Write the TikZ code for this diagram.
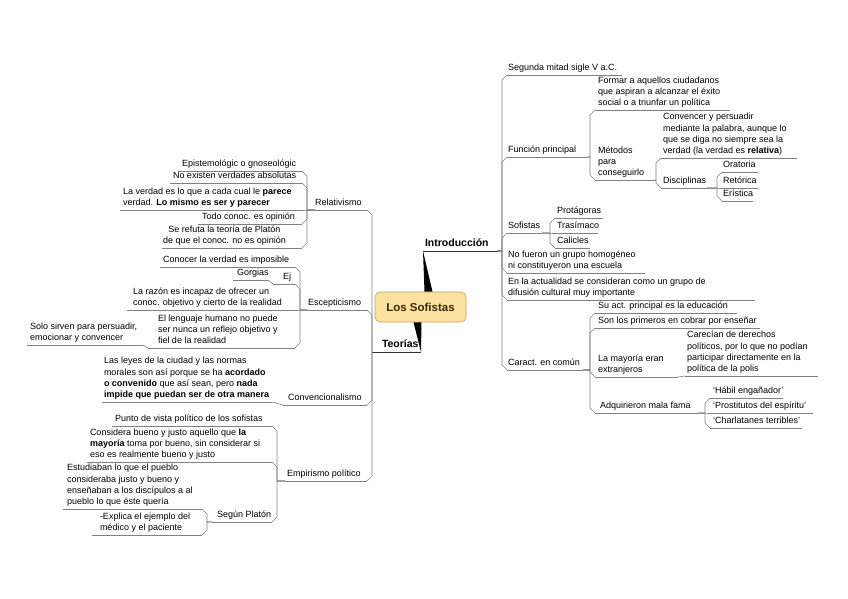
\documentclass[tikz,border=0pt]{standalone}
\usepackage{fontspec}
\setmainfont{Liberation Sans}
\usetikzlibrary{calc}
\definecolor{linec}{RGB}{128,128,128}
\definecolor{rootfill}{RGB}{252,226,160}
\definecolor{rootdraw}{RGB}{190,160,100}
\definecolor{roottext}{RGB}{60,40,10}
\tikzset{
  conn/.style={draw=linec, line width=0.6pt, line join=round},
  mainconn/.style={draw=black!80, line width=0.7pt},
  tp/.style={inner sep=0pt, outer sep=0pt, anchor=south west, align=left, font=\fontsize{9}{11.3}\selectfont},
  tpc/.style={tp, align=center},
  mainb/.style={inner sep=0pt, outer sep=0pt, anchor=south west, font=\bfseries\fontsize{10.5}{12}\selectfont},
  rootbox/.style={draw=rootdraw, fill=rootfill, rounded corners=5pt, minimum width=91pt, minimum height=30pt, inner sep=0pt, text=roottext, font=\bfseries\fontsize{11.5}{13}\selectfont, line width=0.6pt},
}
\newcommand\topic[7][tp]{%
  \coordinate (#2-l) at (#3,#5);
  \coordinate (#2-r) at (#4,#5);
  \node[#1] (#2) at (#6,#5-0.8) {#7\strut};
  \draw[conn] (#2-l) -- (#2-r);
}
\newcommand\linkR[3]{\draw[conn] let \p1=(#1-r), \p2=(#2-l) in (\p1) -- (\x2-5pt,\y1) -- (\x2-5pt,\y2#3) -- (\p2);}
\newcommand\linkL[3]{\draw[conn] let \p1=(#1-l), \p2=(#2-r) in (\p1) -- (\x2+5pt,\y1) -- (\x2+5pt,\y2#3) -- (\p2);}
\begin{document}
\begin{tikzpicture}[x=1pt,y=-1pt]
\useasboundingbox (0,0) rectangle (848,599);
% central node
\node[rootbox] (root) at (420.5,307) {Los Sofistas};
% main branches
\coordinate (intro-l) at (423,251);
\coordinate (intro-r) at (497,251);
\node[mainb] (intro) at (425,250) {Introducción\strut};
\draw[mainconn] (intro-l) -- (intro-r);
\coordinate (teo-l) at (372,352);
\coordinate (teo-r) at (421,352);
\node[mainb] (teo) at (382,351) {Teorías\strut};
\draw[mainconn] (teo-l) -- (teo-r);
\fill[black] (intro-l) -- ([xshift=4pt]root.north) -- ([xshift=12pt]root.north) -- cycle;
\fill[black] (teo-r) -- ([xshift=-7pt]root.south) -- ([xshift=1pt]root.south) -- cycle;

% ---------- right side ----------
\topic{seg}{507}{622}{75}{508}{Segunda mitad sigle V a.C.}
\topic{fun}{507}{587}{157}{508}{Función principal}
\topic{form}{595}{730}{110}{598}{Formar a aquellos ciudadanos\\que aspiran a alcanzar el éxito\\social o a triunfar un política}
\topic{met}{595}{655}{180}{598}{Métodos\\para\\conseguirlo}
\topic{conv}{661}{797}{158}{663}{Convencer y persuadir\\mediante la palabra, aunque lo\\que se diga no siempre sea la\\verdad (la verdad es \textbf{relativa})}
\topic{disc}{661}{707}{188}{663}{Disciplinas}
\topic{ora}{722}{758}{172}{723}{Oratoria}
\topic{ret}{722}{758}{188}{723}{Retórica}
\topic{eri}{722}{753}{201}{723}{Erística}
\topic{sof}{507}{542}{233}{508}{Sofistas}
\topic{prot}{555}{603}{218}{557}{Protágoras}
\topic{tras}{555}{598}{233}{557}{Trasímaco}
\topic{cal}{555}{590}{248}{557}{Calicles}
\topic{nof}{507}{645}{273}{508}{No fueron un grupo homogéneo\\ni constituyeron una escuela}
\topic{enl}{507}{755}{300}{508}{En la actualidad se consideran como un grupo de\\difusión cultural muy importante}
\topic{car}{507}{583}{370}{508}{Caract. en común}
\topic{sua}{595}{737}{313}{598}{Su act. principal es la educación}
\topic{son}{595}{760}{328}{598}{Son los primeros en cobrar por enseñar}
\topic{may}{595}{678}{377}{598}{La mayoría eran\\extranjeros}
\topic{carec}{685}{818}{376}{687}{Carecían de derechos\\políticos, por lo que no podían\\participar directamente en la\\política de la polis}
\topic{adq}{595}{698}{413}{600}{Adquirieron mala fama}
\topic{hab}{710}{783}{398}{713}{`Hábil engañador'}
\topic{pros}{710}{813}{413}{713}{`Prostitutos del espíritu'}
\topic{cha}{710}{802}{428}{713}{`Charlatanes terribles'}

\linkR{intro}{seg}{-5pt}
\linkR{intro}{fun}{-5pt}
\linkR{intro}{sof}{-5pt}
\linkR{intro}{nof}{+5pt}
\linkR{intro}{enl}{+5pt}
\linkR{intro}{car}{+5pt}
\linkR{fun}{form}{-5pt}
\linkR{fun}{met}{+5pt}
\linkR{met}{conv}{-5pt}
\linkR{met}{disc}{+5pt}
\linkR{disc}{ora}{-5pt}
\linkR{disc}{ret}{+0pt}
\linkR{disc}{eri}{+5pt}
\linkR{sof}{prot}{-5pt}
\linkR{sof}{tras}{+0pt}
\linkR{sof}{cal}{+5pt}
\linkR{car}{sua}{-5pt}
\linkR{car}{son}{-5pt}
\linkR{car}{may}{+5pt}
\linkR{car}{adq}{+5pt}
\draw[conn] (may-r) -- (carec-l);
\linkR{adq}{hab}{-5pt}
\linkR{adq}{pros}{+0pt}
\linkR{adq}{cha}{+5pt}

% ---------- left side ----------
\topic{rel}{315}{367}{210}{315}{Relativismo}
\topic{epi}{178}{302}{171}{182}{Epistemológic o gnoseológic}
\topic{noe}{170}{302}{183}{173}{No existen verdades absolutas}
\topic{lav}{120}{302}{210}{123}{La verdad es lo que a cada cual le \textbf{parece}\\verdad. \textbf{Lo mismo es ser y parecer}}
\topic{tod}{198}{302}{224}{202}{Todo conoc. es opinión}
\topic[tpc]{ser}{162}{302}{248}{163}{Se refuta la teoría de Platón\\de que el conoc. no es opinión}
\topic{esc}{307}{367}{310}{308}{Escepticismo}
\topic{coc}{160}{295}{267}{163}{Conocer la verdad es imposible}
\topic{gor}{233}{268}{280}{237}{Gorgias}
\topic{ej}{273}{295}{284}{283}{Ej}
\topic{lar}{127}{295}{310}{133}{La razón es incapaz de ofrecer un\\conoc. objetivo y cierto de la realidad}
\topic{ell}{148}{295}{348}{158}{El lenguaje humano no puede\\ser nunca un reflejo objetivo y\\fiel de la realidad}
\topic{solo}{27}{143}{345}{30}{Solo sirven para persuadir,\\emocionar y convencer}
\topic{con}{283}{367}{405}{288}{Convencionalismo}
\topic{las}{102}{272}{402}{104}{Las leyes de la ciudad y las normas\\morales son así porque se ha \textbf{acordado}\\\textbf{o convenido} que así sean, pero \textbf{nada}\\\textbf{impide que puedan ser de otra manera}}
\topic{emp}{285}{367}{481}{287}{Empirismo político}
\topic{pun}{112}{272}{426}{115}{Punto de vista político de los sofistas}
\topic{cons}{87}{272}{462}{90}{Considera bueno y justo aquello que \textbf{la}\\\textbf{mayoría} toma por bueno, sin considerar si\\eso es realmente bueno y justo}
\topic{segp}{212}{272}{522}{217}{Según Platón}
\topic{est}{63}{202}{509}{67}{Estudiaban lo que el pueblo\\consideraba justo y bueno y\\enseñaban a los discípulos a al\\pueblo lo que éste quería}
\topic{exp}{92}{202}{535}{100}{-Explica el ejemplo del\\médico y el paciente}

\linkL{teo}{rel}{-5pt}
\linkL{teo}{esc}{-5pt}
\linkL{teo}{con}{+5pt}
\linkL{teo}{emp}{+5pt}
\linkL{rel}{epi}{-5pt}
\linkL{rel}{noe}{-5pt}
\linkL{rel}{lav}{+0pt}
\linkL{rel}{tod}{+5pt}
\linkL{rel}{ser}{+5pt}
\linkL{esc}{coc}{-5pt}
\linkL{esc}{ej}{-5pt}
\linkL{esc}{lar}{+0pt}
\linkL{esc}{ell}{+5pt}
\draw[conn] (ej-l) -- (gor-r);
\draw[conn] (ell-l) -- (solo-r);
\draw[conn] (con-l) -- (las-r);
\linkL{emp}{pun}{-5pt}
\linkL{emp}{cons}{-5pt}
\linkL{emp}{segp}{+5pt}
\linkL{segp}{est}{-5pt}
\linkL{segp}{exp}{+5pt}
\end{tikzpicture}
\end{document}
